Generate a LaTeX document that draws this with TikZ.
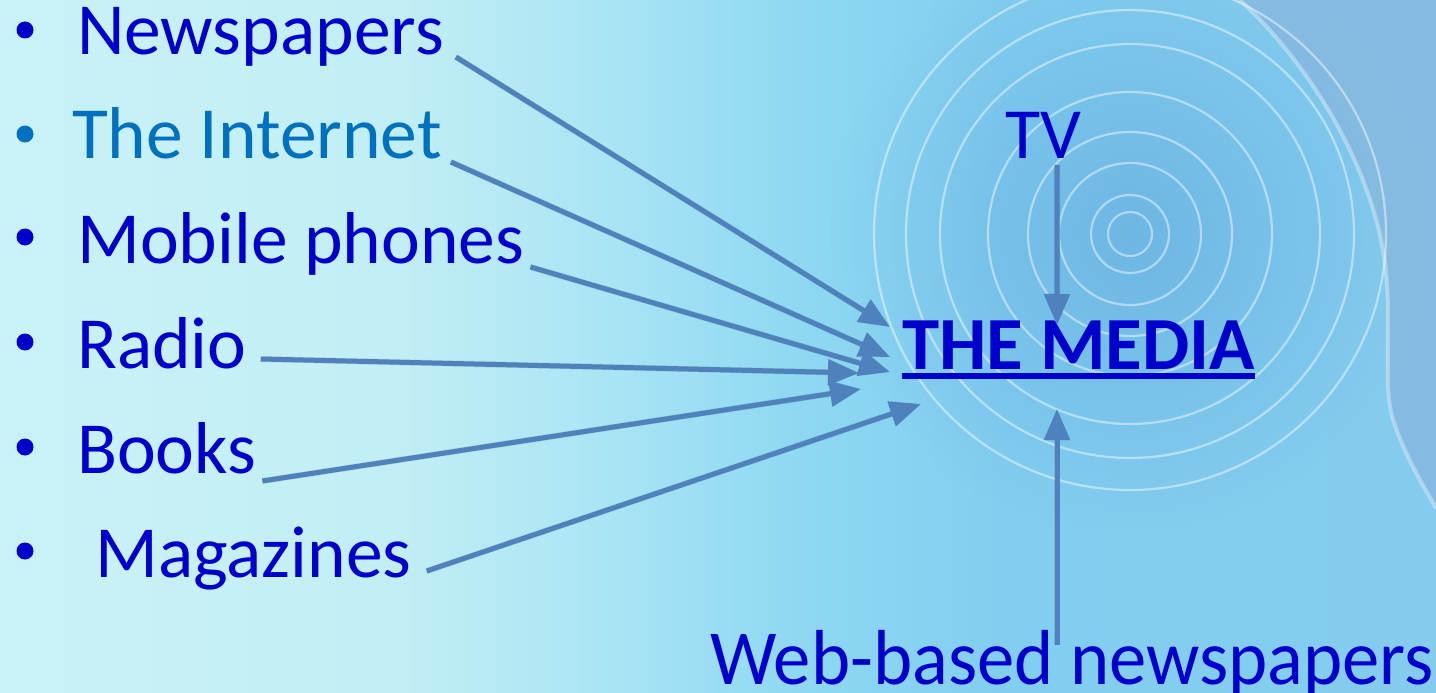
\documentclass[tikz,border=0pt]{standalone}
\usepackage{fontspec}
\setmainfont{Carlito}
\usetikzlibrary{arrows.meta,calc,fadings}
\definecolor{bgA}{HTML}{CAF2F6}
\definecolor{bgB}{HTML}{C1EEF5}
\definecolor{bgC}{HTML}{AAE5F4}
\definecolor{bgD}{HTML}{8ED8F2}
\definecolor{bgE}{HTML}{82CEF0}
\definecolor{bgF}{HTML}{84CCEE}
\definecolor{darkc}{HTML}{5DA4DA}
\definecolor{headc}{HTML}{86B8E0}
\definecolor{txt}{HTML}{0000CC}
\definecolor{inet}{HTML}{0070C0}
\definecolor{arr}{HTML}{4F81BD}
\tikzfading[name=radfade, inner color=transparent!0, outer color=transparent!100]
\tikzset{
  item/.style={anchor=base west, inner sep=0pt, font=\fontsize{73.5}{88}\selectfont, text=txt},
  bul/.style={fill=txt, draw=none},
  conn/.style={draw=arr, line width=5pt, -{Triangle[length=31pt,width=25pt]}},
  connshadow/.style={draw=black, draw opacity=0.10, fill opacity=0.10, line width=6pt, -{Triangle[length=31pt,width=25pt]}, shift={(2pt,-3pt)}},
  ring/.style={draw=white, draw opacity=0.45, line width=2.2pt}
}
\begin{document}
\begin{tikzpicture}[x=1pt,y=-1pt]
\useasboundingbox (0,0) rectangle (1436,693);
% background
\shade[left color=bgA, right color=bgB] (0,0) rectangle (401,693);
\shade[left color=bgB, right color=bgC] (400,0) rectangle (601,693);
\shade[left color=bgC, right color=bgD] (600,0) rectangle (801,693);
\shade[left color=bgD, right color=bgE] (800,0) rectangle (1001,693);
\shade[left color=bgE, right color=bgF] (1000,0) rectangle (1436,693);
\fill[darkc, fill opacity=0.55, path fading=radfade] (1130,234) circle[radius=300pt];
% head silhouette
\fill[headc, fill opacity=0.85] (1240,0) .. controls (1300,55) and (1365,150) .. (1383,250)
  .. controls (1395,320) and (1380,390) .. (1395,425)
  .. controls (1405,455) and (1420,480) .. (1436,508) -- (1436,0) -- cycle;
\draw[white, draw opacity=0.35, line width=4pt] (1240,0) .. controls (1300,55) and (1365,150) .. (1383,250)
  .. controls (1395,320) and (1380,390) .. (1395,425)
  .. controls (1405,455) and (1420,480) .. (1436,508);
% rings
\foreach \r in {22,39,71,102,142,190,224,256}
  \draw[ring] (1130,234) circle[radius=\r pt];
% bullets
\foreach \yy in {30,237,342,447,551}
  \fill[bul] (25,\yy) circle[radius=8.5pt];
\fill[inet] (25,134) circle[radius=8.5pt];
% items
\node[item] (news) at (77,55) {Newspapers};
\node[item, text=inet] (inet) at (72,158) {The Internet};
\node[item] (mob) at (77,263) {Mobile phones};
\node[item] (radio) at (77,368) {Radio};
\node[item] (books) at (77,473) {Books};
\node[item] (mag) at (95,577) {Magazines};
\node[item, font=\fontsize{72}{86}\selectfont] (tv) at (1005,158) {TV};
\node[item, font=\fontsize{78}{94}\selectfont] (web) at (710,684) {\scalebox{0.957}[1]{Web-based newspapers}};
\node[anchor=base west, inner sep=0pt, font=\fontsize{75}{90}\selectfont\bfseries, text=txt] (media) at (902,369) {THE MEDIA};
\draw[txt, line width=6pt] ($(media.base west)+(0,7)$) -- ($(media.base east)+(0,7)$);
% arrow endpoints
\coordinate (sNews) at ($(news.base east)+(12,2)$);
\coordinate (sInet) at ($(inet.base east)+(9,4)$);
\coordinate (sMob) at ($(mob.base east)+(6,4)$);
\coordinate (sRadio) at ($(radio.base east)+(14,-9)$);
\coordinate (sBooks) at ($(books.base east)+(6,8)$);
\coordinate (sMag) at ($(mag.base east)+(15,-6)$);
\coordinate (sTV) at ($(tv.base)+(14,7)$);
\coordinate (sWeb) at (1057,645);
\coordinate (tNews) at (890,327);
\coordinate (tInet) at (890,357);
\coordinate (tMob) at (890,372);
\coordinate (tRadio) at (859,373);
\coordinate (tBooks) at (861,389);
\coordinate (tMag) at (921,404);
\coordinate (tTV) at (1057,325);
\coordinate (tWeb) at (1057,409);
\foreach \a/\b in {sNews/tNews,sInet/tInet,sMob/tMob,sRadio/tRadio,sBooks/tBooks,sMag/tMag,sTV/tTV,sWeb/tWeb}
  \draw[connshadow] (\a) -- (\b);
\foreach \a/\b in {sNews/tNews,sInet/tInet,sMob/tMob,sRadio/tRadio,sBooks/tBooks,sMag/tMag,sTV/tTV,sWeb/tWeb}
  \draw[conn] (\a) -- (\b);
\end{tikzpicture}
\end{document}
